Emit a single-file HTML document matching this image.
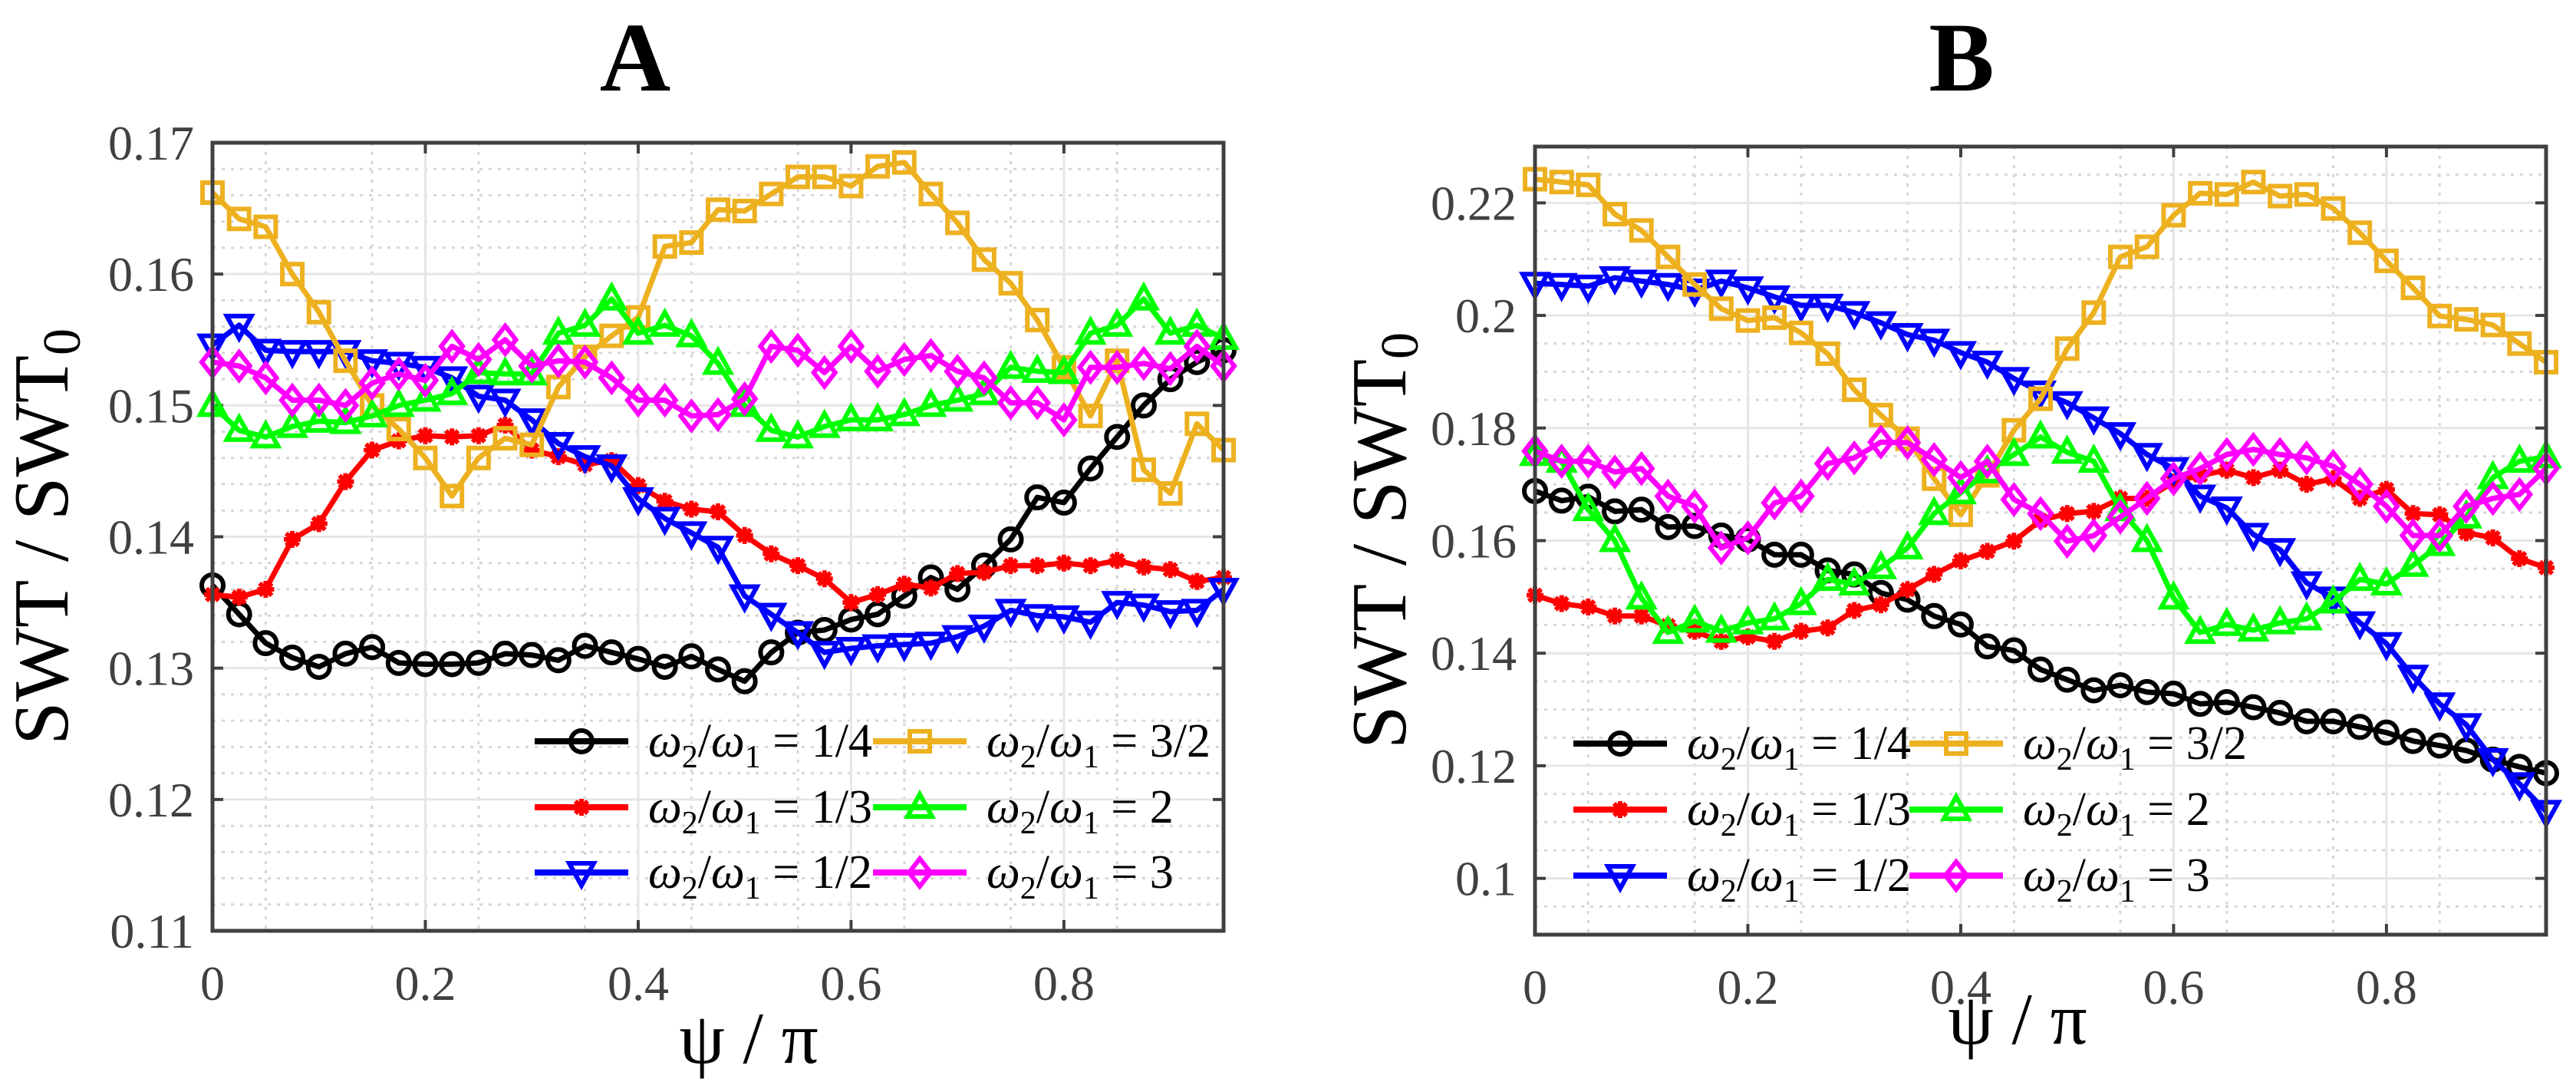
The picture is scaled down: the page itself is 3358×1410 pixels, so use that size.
<!DOCTYPE html>
<html><head><meta charset="utf-8"><style>
html,body{margin:0;padding:0;background:#fff;}
svg{display:block;}
text{font-family:"Liberation Serif",serif;}
</style></head><body>
<svg id="fig" width="3358" height="1410" viewBox="0 0 3358 1410" xmlns="http://www.w3.org/2000/svg"></svg>
<script>
const xValues=[0,0.025,0.05,0.075,0.1,0.125,0.15,0.175,0.2,0.225,0.25,0.275,0.3,0.325,0.35,0.375,0.4,0.425,0.45,0.475,0.5,0.525,0.55,0.575,0.6,0.625,0.65,0.675,0.7,0.725,0.75,0.775,0.8,0.825,0.85,0.875,0.9,0.925,0.95];
const seriesLabels=["1/4","1/3","1/2","3/2","2","3"];
const xTickValues=[0,0.2,0.4,0.6,0.8];
const xTickLabels=["0","0.2","0.4","0.6","0.8"];
const yTicksA=[0.11,0.12,0.13,0.14,0.15,0.16,0.17];
const yTickLabelsA=["0.11","0.12","0.13","0.14","0.15","0.16","0.17"];
const yTicksB=[0.1,0.12,0.14,0.16,0.18,0.2,0.22];
const yTickLabelsB=["0.1","0.12","0.14","0.16","0.18","0.2","0.22"];
const A_quarter=[0.1363,0.1341,0.1319,0.1308,0.1301,0.1311,0.1316,0.1304,0.1303,0.1303,0.1304,0.1311,0.1310,0.1306,0.1317,0.1312,0.1307,0.1301,0.1309,0.1299,0.1290,0.1312,0.1327,0.1329,0.1337,0.1341,0.1355,0.1369,0.1360,0.1378,0.1398,0.1430,0.1426,0.1452,0.1476,0.1500,0.1520,0.1533,0.1542];
const A_third=[0.1356,0.1354,0.1360,0.1398,0.1410,0.1442,0.1466,0.1473,0.1477,0.1476,0.1477,0.1485,0.1466,0.1461,0.1455,0.1458,0.1439,0.1427,0.1421,0.1419,0.1401,0.1387,0.1378,0.1368,0.1350,0.1356,0.1364,0.1361,0.1372,0.1373,0.1378,0.1378,0.1380,0.1378,0.1382,0.1377,0.1375,0.1366,0.1369];
const A_half=[0.1546,0.1561,0.1542,0.1541,0.1541,0.1541,0.1534,0.1532,0.1529,0.1521,0.1507,0.1504,0.1489,0.1471,0.1461,0.1454,0.1429,0.1414,0.1403,0.1392,0.1355,0.1341,0.1327,0.1312,0.1315,0.1317,0.1318,0.1319,0.1324,0.1332,0.1344,0.1340,0.1339,0.1335,0.1350,0.1348,0.1343,0.1344,0.1360];
const A_threeHalves=[0.1662,0.1642,0.1636,0.1600,0.1571,0.1534,0.1500,0.1482,0.1460,0.1431,0.1460,0.1475,0.1470,0.1514,0.1537,0.1553,0.1567,0.1621,0.1624,0.1649,0.1648,0.1661,0.1674,0.1674,0.1667,0.1682,0.1685,0.1661,0.1639,0.1611,0.1593,0.1565,0.1529,0.1492,0.1534,0.1451,0.1433,0.1486,0.1466];
const A_two=[0.1500,0.1481,0.1476,0.1484,0.1488,0.1487,0.1492,0.1500,0.1504,0.1509,0.1525,0.1524,0.1524,0.1555,0.1561,0.1581,0.1555,0.1561,0.1553,0.1532,0.1500,0.1481,0.1476,0.1484,0.1489,0.1489,0.1493,0.1500,0.1504,0.1509,0.1529,0.1526,0.1525,0.1555,0.1561,0.1581,0.1555,0.1561,0.1551];
const A_three=[0.1533,0.1530,0.1521,0.1504,0.1504,0.1500,0.1517,0.1524,0.1519,0.1545,0.1535,0.1550,0.1530,0.1534,0.1533,0.1521,0.1504,0.1504,0.1492,0.1493,0.1505,0.1545,0.1542,0.1525,0.1545,0.1526,0.1535,0.1538,0.1526,0.1521,0.1502,0.1502,0.1489,0.1529,0.1529,0.1532,0.1528,0.1545,0.1530];
const B_quarter=[0.1688,0.1671,0.1678,0.1652,0.1655,0.1624,0.1626,0.1609,0.1602,0.1575,0.1575,0.1547,0.1540,0.1507,0.1495,0.1466,0.1451,0.1412,0.1405,0.1371,0.1353,0.1334,0.1343,0.1331,0.1328,0.1310,0.1313,0.1304,0.1294,0.1279,0.1279,0.1269,0.1259,0.1244,0.1236,0.1227,0.1211,0.1198,0.1187];
const B_third=[0.1503,0.1488,0.1482,0.1466,0.1466,0.1449,0.1439,0.1421,0.1429,0.1421,0.1439,0.1445,0.1476,0.1486,0.1513,0.1540,0.1564,0.1581,0.1599,0.1636,0.1648,0.1652,0.1675,0.1675,0.1704,0.1716,0.1725,0.1712,0.1725,0.1700,0.1710,0.1675,0.1691,0.1648,0.1646,0.1614,0.1605,0.1568,0.1552];
const B_half=[0.2057,0.2055,0.2052,0.2067,0.2061,0.2055,0.2045,0.2061,0.2049,0.2033,0.2018,0.2018,0.2005,0.1987,0.1966,0.1956,0.1934,0.1917,0.1888,0.1864,0.1845,0.1818,0.1790,0.1753,0.1728,0.1679,0.1658,0.1611,0.1584,0.1525,0.1498,0.1454,0.1417,0.1359,0.1310,0.1273,0.1211,0.1168,0.1119];
const B_threeHalves=[0.2242,0.2237,0.2232,0.2180,0.2151,0.2104,0.2055,0.2012,0.1991,0.1996,0.1969,0.1932,0.1868,0.1823,0.1781,0.1710,0.1646,0.1716,0.1796,0.1852,0.1941,0.2005,0.2104,0.2122,0.2178,0.2217,0.2215,0.2237,0.2212,0.2215,0.2190,0.2147,0.2097,0.2049,0.1999,0.1993,0.1983,0.1950,0.1917];
const B_two=[0.1753,0.1741,0.1655,0.1600,0.1498,0.1437,0.1457,0.1439,0.1454,0.1461,0.1488,0.1531,0.1523,0.1552,0.1587,0.1648,0.1685,0.1722,0.1753,0.1784,0.1757,0.1741,0.1655,0.1600,0.1498,0.1437,0.1451,0.1441,0.1454,0.1461,0.1491,0.1531,0.1523,0.1556,0.1593,0.1642,0.1712,0.1741,0.1749];
const B_three=[0.1759,0.1741,0.1741,0.1722,0.1728,0.1679,0.1661,0.1587,0.1605,0.1667,0.1679,0.1737,0.1747,0.1775,0.1774,0.1744,0.1712,0.1741,0.1673,0.1648,0.1599,0.1609,0.1642,0.1675,0.1710,0.1728,0.1753,0.1762,0.1753,0.1747,0.1732,0.1700,0.1661,0.1609,0.1609,0.1661,0.1675,0.1682,0.1728];

const NS="http://www.w3.org/2000/svg";
const svg=document.getElementById('fig');
function mk(tag,attrs,parent){const e=document.createElementNS(NS,tag);for(const k in attrs)e.setAttribute(k,attrs[k]);(parent||svg).appendChild(e);return e;}
const colors=["#000000","#ff0000","#0000ff","#edb120","#00ff00","#ff00ff"];
const markerKinds=["circle","star","tdown","square","tup","diamond"];
const slugs=["quarter","third","half","three-halves","two","three"];

function marker(kind,x,y,c,g){
  const sw=6;
  if(kind==="circle")return mk('circle',{cx:x,cy:y,r:14,fill:'none',stroke:c,'stroke-width':sw},g);
  if(kind==="square")return mk('rect',{x:x-13,y:y-13,width:26,height:26,fill:'none',stroke:c,'stroke-width':sw},g);
  if(kind==="tdown")return mk('polygon',{points:`${x-16},${y-12} ${x+16},${y-12} ${x},${y+17}`,fill:'none',stroke:c,'stroke-width':sw},g);
  if(kind==="tup")return mk('polygon',{points:`${x-16},${y+12} ${x+16},${y+12} ${x},${y-17}`,fill:'none',stroke:c,'stroke-width':sw},g);
  if(kind==="diamond")return mk('polygon',{points:`${x},${y-18} ${x+14},${y} ${x},${y+18} ${x-14},${y}`,fill:'none',stroke:c,'stroke-width':sw},g);
  const d=`M${x-11},${y}L${x+11},${y}M${x},${y-11}L${x},${y+11}M${x-8},${y-8}L${x+8},${y+8}M${x-8},${y+8}L${x+8},${y-8}`;
  return mk('path',{d:d,stroke:c,'stroke-width':6,fill:'none'},g);
}

function panel(cfg){
  const {L,R,T,B,ymin,ymax,yTicks,yLabels,yMinorStep,series,title,titleX,legX,legY,yLabelX,xLabelY,name}=cfg;
  const xs=v=>L+(v-0)/(0.95-0)*(R-L);
  const ys=v=>B-(v-ymin)/(ymax-ymin)*(B-T);
  const g=mk('g',{});
  
  
  const mg=mk('g',{stroke:'#d6d6d6','stroke-width':3,'stroke-dasharray':'4,8'},g);
  
  
  for(let v=0.05;v<0.95;v+=0.1){mk('line',{x1:xs(v),x2:xs(v),y1:T,y2:B},mg);}
  const nMinor=Math.round((ymax-ymin)/yMinorStep);
  for(let i=1;i<nMinor;i++){const v=ymin+i*yMinorStep;if(yTicks.some(t=>Math.abs(t-v)<1e-6))continue;mk('line',{x1:L,x2:R,y1:ys(v),y2:ys(v)},mg);}
  const gg=mk('g',{stroke:'#e6e6e6','stroke-width':3},g);
  
  
  xTickValues.forEach(v=>{if(v>0)mk('line',{x1:xs(v),x2:xs(v),y1:T,y2:B},gg);});
  yTicks.forEach(v=>{mk('line',{x1:L,x2:R,y1:ys(v),y2:ys(v)},gg);});
  const tg=mk('g',{stroke:'#404040','stroke-width':4},g);
  xTickValues.forEach(v=>{mk('line',{x1:xs(v),x2:xs(v),y1:B,y2:B-14},tg);mk('line',{x1:xs(v),x2:xs(v),y1:T,y2:T+14},tg);});
  yTicks.forEach(v=>{mk('line',{x1:L,x2:L+14,y1:ys(v),y2:ys(v)},tg);mk('line',{x1:R,x2:R-14,y1:ys(v),y2:ys(v)},tg);});
  series.forEach((vals,si)=>{
    const sg=mk('g',{},g);
    
    
    const pts=vals.map((v,i)=>xs(xValues[i])+','+ys(v)).join(' ');
    mk('polyline',{points:pts,fill:'none',stroke:colors[si],'stroke-width':7,'stroke-linejoin':'round'},sg);
    vals.forEach((v,i)=>{const m=marker(markerKinds[si],xs(xValues[i]),ys(v),colors[si],sg);
      
      });
  });
  const fr=mk('rect',{x:L,y:T,width:R-L,height:B-T,fill:'none',stroke:'#404040','stroke-width':5},g);
  
  
  xTickValues.forEach((v,i)=>{const t=mk('text',{x:xs(v),y:B+90,'text-anchor':'middle','font-size':64,fill:'#404040'},g);t.textContent=xTickLabels[i];
    
    });
  yTicks.forEach((v,i)=>{const t=mk('text',{x:L-24,y:ys(v)+22,'text-anchor':'end','font-size':64,fill:'#404040'},g);t.textContent=yLabels[i];
    
    });
  const xl=mk('text',{x:(L+R)/2+(name==='panel-b'?-30:40),y:xLabelY,'text-anchor':'middle','font-size':95,fill:'#000'},g);
  xl.textContent='ψ / π';
  
  
  const cy=(T+B)/2;
  const yl=mk('text',{x:yLabelX,y:cy,'text-anchor':'middle','font-size':102,fill:'#000',transform:`rotate(-90 ${yLabelX} ${cy})`},g);
  yl.innerHTML='SWT / SWT<tspan font-size="70" dy="16">0</tspan>';
  
  
  const tt=mk('text',{x:titleX,y:118,'text-anchor':'middle','font-size':128,'font-weight':'bold',fill:'#000'},g);
  tt.textContent=title;
  
  
  const lg=mk('g',{},g);
  
  
  const order=[0,3,1,4,2,5];
  order.forEach((si,k)=>{
    const col=k%2,row=Math.floor(k/2);
    const lx=legX[col],ly=legY[row];
    const eg=mk('g',{},lg);
    
    
    mk('line',{x1:lx,x2:lx+122,y1:ly,y2:ly,stroke:colors[si],'stroke-width':8},eg);
    marker(markerKinds[si],lx+61,ly,colors[si],eg);
    const t=mk('text',{x:lx+148,y:ly+20,'font-size':62,fill:'#000'},eg);
    t.innerHTML='<tspan font-style="italic">ω</tspan><tspan font-size="42" dy="14">2</tspan><tspan dy="-14">/</tspan><tspan font-style="italic">ω</tspan><tspan font-size="42" dy="14">1</tspan><tspan dy="-14"> = '+seriesLabels[si]+'</tspan>';
  });
}

panel({name:'panel-a',L:277,R:1595,T:186,B:1213,ymin:0.11,ymax:0.17,yTicks:yTicksA,yLabels:yTickLabelsA,yMinorStep:0.002,
  series:[A_quarter,A_third,A_half,A_threeHalves,A_two,A_three],title:'A',titleX:828,legX:[697,1138],legY:[966,1052,1137],yLabelX:88,xLabelY:1385});
panel({name:'panel-b',L:2001,R:3319,T:191,B:1218,ymin:0.09,ymax:0.23,yTicks:yTicksB,yLabels:yTickLabelsB,yMinorStep:0.005,
  series:[B_quarter,B_third,B_half,B_threeHalves,B_two,B_three],title:'B',titleX:2557,legX:[2051,2489],legY:[969,1055,1141],yLabelX:1832,xLabelY:1360});
</script>
</body></html>
